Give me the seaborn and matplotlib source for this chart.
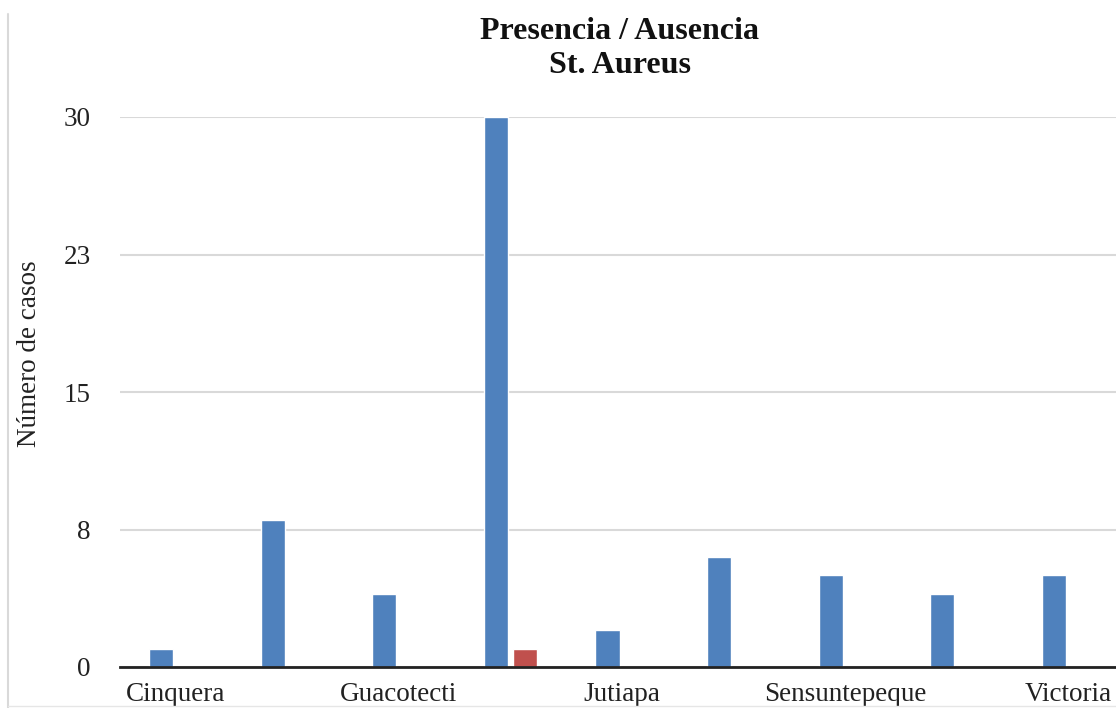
import pandas as pd
import matplotlib
matplotlib.use('Agg')
import matplotlib.pyplot as plt
from matplotlib.lines import Line2D
import seaborn as sns

# Data
municipios = ["Cinquera", "Dolores", "Guacotecti", "Ilobasco", "Jutiapa",
              "San Isidro", "Sensuntepeque", "Tejutepeque", "Victoria"]
presencia = [1, 8, 4, 30, 2, 6, 5, 4, 5]
ausencia = [0, 0, 0, 1, 0, 0, 0, 0, 0]
series_names = ["Presencia", "Ausencia"]
ytick_values = [0, 7.5, 15, 22.5, 30]
ytick_labels = ["0", "8", "15", "23", "30"]

df = pd.DataFrame({
    "municipio": municipios * 2,
    "serie": [series_names[0]] * len(municipios) + [series_names[1]] * len(municipios),
    "casos": presencia + ausencia,
})

sns.set_theme(style="white")
plt.rcParams['font.family'] = ['Liberation Serif', 'DejaVu Serif']

fig = plt.figure(figsize=(11.16, 7.08), dpi=100)
ax = fig.add_axes([120 / 1116, 1 - 667 / 708, 1004 / 1116, 550 / 708])

sns.barplot(data=df, x="municipio", y="casos", hue="serie", order=municipios,
            hue_order=series_names, palette=["#4F81BD", "#C0504D"],
            width=0.52, gap=0.17, saturation=1, legend=False, ax=ax)

ax.set_xlim(-0.5, len(municipios) - 0.5)
ax.set_ylim(0, 30)
ax.set_yticks(ytick_values)
ax.set_yticklabels(ytick_labels)
ax.set_xticks(range(len(municipios)))
ax.set_xticklabels([m if i % 2 == 0 else "" for i, m in enumerate(municipios)])
ax.yaxis.grid(True, color="#D9D9D9", lw=1.5)
ax.set_axisbelow(True)
for side in ["top", "right", "left"]:
    ax.spines[side].set_visible(False)
ax.spines["bottom"].set_color("#222222")
ax.spines["bottom"].set_linewidth(2)
ax.tick_params(axis="y", length=0, pad=21, labelsize=19.5, colors="#222222")
ax.tick_params(axis="x", length=0, pad=11, labelsize=19.5, colors="#222222")
ax.set_xlabel("")
ax.set_ylabel("Número de casos", fontsize=19.5, color="#222222")
ax.yaxis.set_label_coords(-0.078, 0.569)

fig.text(620 / 1116, 1 - 73 / 708, "Presencia / Ausencia\nSt. Aureus",
         ha="center", va="baseline", fontsize=23, fontweight="bold",
         linespacing=1.24, multialignment="center", color="#111111")

# chart frame edges visible in the crop
fig.add_artist(Line2D([8 / 1116, 8 / 1116], [0, 1 - 14 / 708],
                      transform=fig.transFigure, color="#D9D9D9", lw=1.5))
fig.add_artist(Line2D([8 / 1116, 1], [2 / 708, 2 / 708],
                      transform=fig.transFigure, color="#E6E6E6", lw=1))

fig.savefig("out.png", dpi=100)
